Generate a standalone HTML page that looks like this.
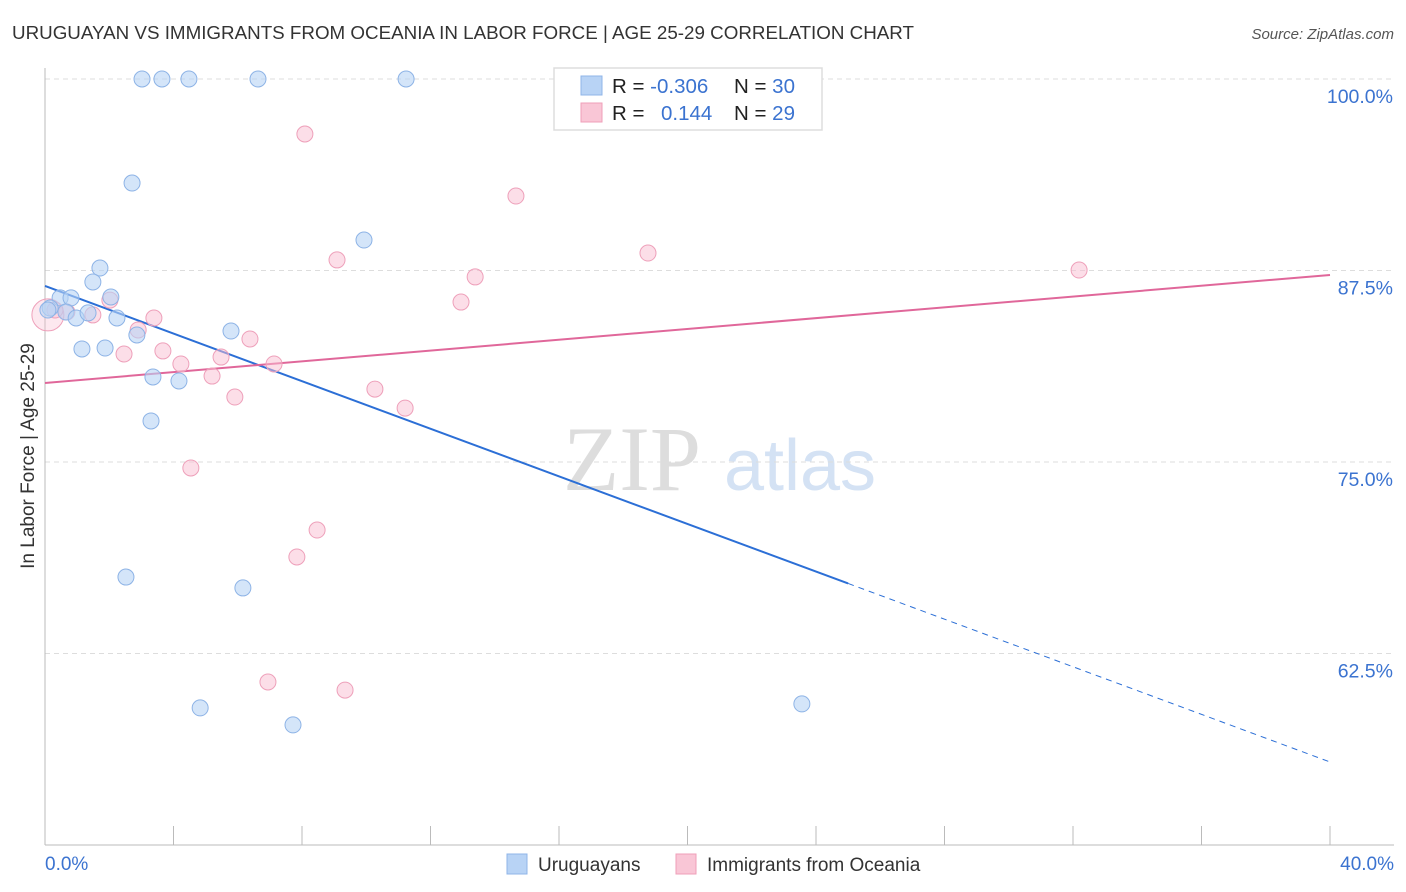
<!DOCTYPE html>
<html><head><meta charset="utf-8"><style>
body{margin:0;background:#fff;font-family:"Liberation Sans",sans-serif;}
svg{display:block}
</style></head><body>
<svg id="chart" width="1406" height="892">
<text x="12" y="39" font-size="18.8" fill="#333">URUGUAYAN VS IMMIGRANTS FROM OCEANIA IN LABOR FORCE | AGE 25-29 CORRELATION CHART</text>
<text x="1394" y="39" font-size="15" fill="#555" font-style="italic" text-anchor="end">Source: ZipAtlas.com</text>
<text x="34" y="456" font-size="19" fill="#333" text-anchor="middle" transform="rotate(-90 34 456)">In Labor Force | Age 25-29</text>
<g><text x="632" y="490" font-size="92" fill="#ddd" font-family="Liberation Serif,serif" text-anchor="middle">ZIP</text><text x="800" y="490" font-size="72" fill="#d4e2f4" text-anchor="middle">atlas</text></g>
<g id="grid"></g><g id="lines"></g><g id="pts"></g>
<g>
<rect x="554" y="68" width="268" height="62" fill="#fff" stroke="#ddd" stroke-width="1.5"/>
<rect x="581" y="76" width="21" height="19" fill="#b8d3f5" stroke="#8fb5e8"/>
<rect x="581" y="103" width="21" height="19" fill="#f9c6d6" stroke="#ef9fb8"/>
<text x="612" y="93" font-size="20.5" fill="#222">R = <tspan fill="#3b73d0">-0.306</tspan><tspan x="734">N = </tspan><tspan fill="#3b73d0">30</tspan></text>
<text x="612" y="120" font-size="20.5" fill="#222">R = <tspan x="661" fill="#3b73d0">0.144</tspan><tspan x="734">N = </tspan><tspan fill="#3b73d0">29</tspan></text>
</g>
<g>
<rect x="507" y="854" width="20" height="20" fill="#b8d3f5" stroke="#8fb5e8"/>
<text x="538" y="871" font-size="19" fill="#333">Uruguayans</text>
<rect x="676" y="854" width="20" height="20" fill="#f9c6d6" stroke="#ef9fb8"/>
<text x="707" y="871" font-size="19" fill="#333">Immigrants from Oceania</text>
</g>
</svg>
<script>
const yTicks=[100,87.5,75,62.5];
const yTickLabels=["100.0%","87.5%","75.0%","62.5%"];
const blueX=[3.02,3.64,4.48,6.63,11.24,2.71,9.93,1.71,1.49,0.47,0.81,2.05,0.16,0.65,0.97,1.34,2.24,2.86,5.79,1.15,1.87,3.36,4.17,3.30,2.52,6.16,4.83,7.72,23.56,0.09];
const blueY=[100,100,100,100,100,93.21,89.49,87.66,86.75,85.71,85.71,85.77,85.05,84.79,84.40,84.73,84.40,83.29,83.55,82.38,82.44,80.55,80.29,77.68,67.49,66.78,58.95,57.84,59.21,84.92];
const pinkX=[8.09,14.66,18.77,9.09,13.39,32.19,12.95,2.02,3.39,1.49,0.68,2.90,6.38,3.67,2.46,5.48,4.23,7.13,5.20,10.27,5.91,11.21,4.54,8.47,7.84,6.94,9.34,0.09,0.31];
const pinkY=[96.41,92.36,88.64,88.19,87.08,87.53,85.44,85.57,84.40,84.60,84.79,83.62,83.03,82.25,82.05,81.85,81.40,81.40,80.61,79.76,79.24,78.52,74.61,70.56,68.80,60.64,60.11,84.60,84.92];
const blueLine=[86.49,55.42], blueSolidEnd=25.0;
const pinkLine=[80.16,87.21];
const NS="http://www.w3.org/2000/svg";
const sx=v=>45+v/40*1285, sy=v=>79+(100-v)/12.5*191.5;
function mk(t,a,p){const e=document.createElementNS(NS,t);for(const k in a)e.setAttribute(k,a[k]);p.appendChild(e);return e;}
const grid=document.getElementById('grid');
yTicks.forEach((t,i)=>{
 const l=mk('line',{x1:45,x2:1394,y1:sy(t),y2:sy(t),stroke:'#ddd','stroke-dasharray':'5,4'},grid);
 
 
 const tx=mk('text',{x:1393,y:sy(t)+24,'font-size':19.5,fill:'#3b73d0','text-anchor':'end'},grid);tx.textContent=yTickLabels[i];
 
 
});
mk('line',{x1:45,x2:45,y1:68,y2:845,stroke:'#bbb'},grid);
mk('line',{x1:45,x2:1394,y1:845,y2:845,stroke:'#bbb'},grid);
for(let i=0;i<=10;i++){const t=mk('line',{x1:sx(i*4),x2:sx(i*4),y1:826,y2:845,stroke:'#bbb'},grid);
 
 }
[[0,"0.0%","start",45],[40,"40.0%","end",1394]].forEach(d=>{const t=mk('text',{x:d[3],y:870,'font-size':19,fill:'#3b73d0','text-anchor':d[2]},grid);t.textContent=d[1];
 
 });
const lines=document.getElementById('lines');
const by=x=>blueLine[0]+(blueLine[1]-blueLine[0])*x/40;
let l1=mk('line',{x1:sx(0),y1:sy(by(0)),x2:sx(blueSolidEnd),y2:sy(by(blueSolidEnd)),stroke:'#2c6fd6','stroke-width':2},lines);


let l2=mk('line',{x1:sx(blueSolidEnd),y1:sy(by(blueSolidEnd)),x2:sx(40),y2:sy(by(40)),stroke:'#2c6fd6','stroke-width':1,'stroke-dasharray':'6,5'},lines);


let l3=mk('line',{x1:sx(0),y1:sy(pinkLine[0]),x2:sx(40),y2:sy(pinkLine[1]),stroke:'#e0679a','stroke-width':2},lines);


const pts=document.getElementById('pts');
pinkX.forEach((x,i)=>{const c=mk('circle',{cx:sx(x),cy:sy(pinkY[i]),r:i==27?16:8,fill:i==27?'rgba(249,190,210,0.35)':'rgba(249,190,210,0.5)',stroke:'#eea0ba','stroke-width':1},pts);
 
 });
blueX.forEach((x,i)=>{const c=mk('circle',{cx:sx(x),cy:sy(blueY[i]),r:8,fill:'rgba(184,211,245,0.6)',stroke:'#8db3e6','stroke-width':1},pts);
 
 });
</script>
</body></html>
